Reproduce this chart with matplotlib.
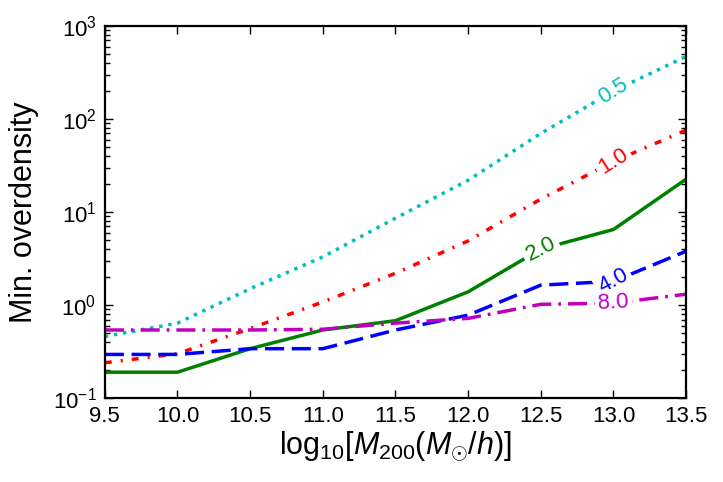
import matplotlib
matplotlib.use("Agg")
import matplotlib.pyplot as plt
import numpy as np

plt.rcParams['font.family'] = ['Liberation Sans', 'DejaVu Sans']
plt.rcParams['mathtext.fontset'] = 'custom'
plt.rcParams['mathtext.rm'] = 'Liberation Sans'
plt.rcParams['mathtext.it'] = 'Liberation Sans:italic'
plt.rcParams['mathtext.bf'] = 'Liberation Sans:bold'

# log10 halo mass grid
logM = [9.5, 10.0, 10.5, 11.0, 11.5, 12.0, 12.5, 13.0, 13.5]

# minimum overdensity for each redshift curve
od_05 = [0.46, 0.64, 1.5, 3.3, 8.6, 22, 70, 200, 470]
od_10 = [0.24, 0.30, 0.56, 1.08, 2.2, 4.9, 13.8, 35, 76]
od_20 = [0.19, 0.19, 0.34, 0.54, 0.68, 1.39, 4.0, 6.5, 22.6]
od_40 = [0.295, 0.295, 0.34, 0.34, 0.54, 0.78, 1.64, 1.8, 3.8]
od_80 = [0.54, 0.54, 0.54, 0.55, 0.64, 0.72, 1.02, 1.05, 1.31]

labels = ["0.5", "1.0", "2.0", "4.0", "8.0"]
curves = [od_05, od_10, od_20, od_40, od_80]
colors = ['c', 'r', 'g', 'b', 'm']
styles = [dict(linestyle=':'),
          dict(dashes=(2.0, 2.6, 0.6, 2.6)),
          dict(linestyle='-'),
          dict(dashes=(5.5, 2.2)),
          dict(dashes=(5.5, 2.0, 0.8, 2.0))]
label_idx = [7, 7, 6, 7, 7]     # which point carries the inline label
label_rot = [32, 32, 27, 28, 3]

fig = plt.figure(figsize=(7.23, 4.82), dpi=100)
ax = fig.add_axes([0.145, 0.174, 0.804, 0.772])

for y, c, st, lab, i, rot in zip(curves, colors, styles, labels, label_idx, label_rot):
    ax.plot(logM, y, color=c, lw=2.5, **st)
    ax.text(logM[i], y[i], lab, color=c, fontsize=16, rotation=rot,
            ha='center', va='center', rotation_mode='anchor', zorder=5,
            bbox=dict(facecolor='white', edgecolor='none', pad=2.5))

ax.set_yscale('log')
ax.set_xlim(9.5, 13.5)
ax.set_ylim(0.1, 1000)
ax.set_xticks(np.arange(9.5, 13.51, 0.5))
ax.set_xticklabels(["%.1f" % v for v in np.arange(9.5, 13.51, 0.5)])

ax.tick_params(which='both', direction='in', top=True, right=True, labelsize=16)
ax.tick_params(which='major', length=6, width=1.0, pad=6)
ax.tick_params(which='minor', length=3.5, width=1.0)
for s in ax.spines.values():
    s.set_linewidth(1.6)

ax.set_xlabel(r'$\mathrm{log}_{10}[M_{200}(M_{\odot}/h)]$', fontsize=22, labelpad=1)
ax.set_ylabel('Min. overdensity', fontsize=22, labelpad=10)

fig.savefig('out.png', dpi=100)
